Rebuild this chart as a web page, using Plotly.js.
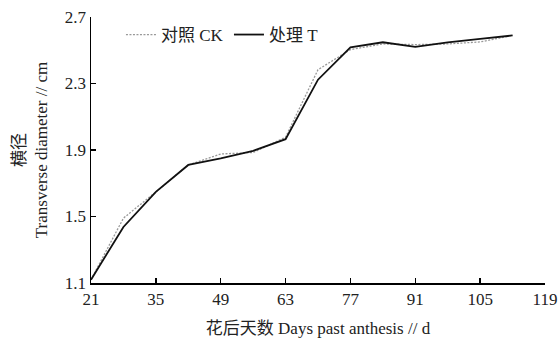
<!DOCTYPE html>
<html><head><meta charset="utf-8">
<script src="https://cdn.plot.ly/plotly-3.0.1.min.js"></script>
<style>html,body{margin:0;padding:0;background:#fff}#c{width:560px;height:340px}</style>
</head><body><div id="c"></div>
<script>
const days = [21,28,35,42,49,56,63,70,77,84,91,98,105,112];
const ck = [1.12,1.49,1.648,1.81,1.876,1.885,1.977,2.383,2.504,2.538,2.534,2.538,2.55,2.589];
const tr = [1.12,1.437,1.648,1.81,1.85,1.895,1.965,2.323,2.518,2.548,2.52,2.548,2.568,2.589];
const xTicks = [21,35,49,63,77,91,105,119];
const yTicks = [1.1,1.5,1.9,2.3,2.7];
const names = ['对照 CK','处理 T'];
const F = '"Liberation Serif","Times New Roman","Noto Sans CJK SC",serif';
Plotly.newPlot('c',[
 {x:days,y:ck,name:names[0],mode:'lines',line:{color:'#999',width:1.3,dash:'2px,1.5px'}},
 {x:days,y:tr,name:names[1],mode:'lines',line:{color:'#111',width:1.8}}
],{
 width:560,height:340,margin:{l:91,r:15,t:17,b:57},
 paper_bgcolor:'#fff',plot_bgcolor:'#fff',
 font:{family:F,size:17,color:'#222'},
 showlegend:true,
 legend:{orientation:'h',x:0.066,y:1.0,xanchor:'left',yanchor:'top',font:{family:F,size:17,color:'#222'},bgcolor:'rgba(0,0,0,0)',itemwidth:30,entrywidth:63},
 xaxis:{range:[21,119],tickvals:xTicks,ticktext:xTicks.map(String),ticks:'inside',ticklen:5,tickwidth:1.5,tickcolor:'#000',
   showline:true,linecolor:'#000',linewidth:1.5,showgrid:false,zeroline:false,
   tickfont:{family:F,size:17},
   title:{text:'花后天数 Days past anthesis // d',font:{family:F,size:17},standoff:14}},
 yaxis:{range:[1.1,2.7],tickvals:yTicks,ticktext:yTicks.map(v=>v.toFixed(1)),ticks:'inside',ticklen:5,tickwidth:1.5,tickcolor:'#000',
   showline:true,linecolor:'#000',linewidth:1.5,showgrid:false,zeroline:false,
   tickfont:{family:F,size:17},
   title:{text:'横径<br>Transverse diameter // cm',font:{family:F,size:17},standoff:13}}
},{staticPlot:true});
</script></body></html>
